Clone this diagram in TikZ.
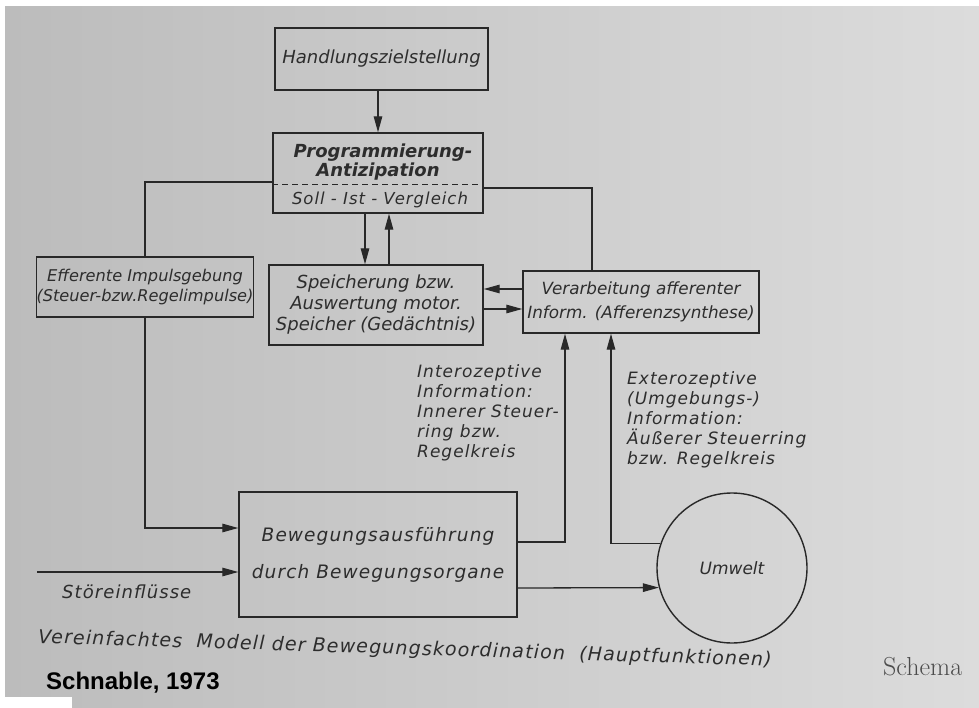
\documentclass[tikz,border=0pt]{standalone}
\usepackage{fontspec}
\newfontfamily\dejavu{DejaVu Sans}
\newfontfamily\dejavuls[LetterSpace=6]{DejaVu Sans}
\newfontfamily\arialfont{Liberation Sans}
\usetikzlibrary{arrows.meta}
\definecolor{ink}{RGB}{40,40,40}
\definecolor{textink}{RGB}{45,45,45}
\definecolor{bgleft}{RGB}{188,188,188}
\definecolor{bgright}{RGB}{220,220,220}
\tikzset{
  box/.style={draw=ink, line width=1.4pt, rectangle, inner sep=0pt, text=textink, align=center},
  lbl/.style={text=textink, inner sep=0pt},
  conn/.style={draw=ink, line width=1.3pt},
  arr/.style={conn, -{Triangle[length=16pt,width=8.5pt]}},
  fa/.style={font={\dejavu\itshape\fontsize{#1}{20}\selectfont}},
  fl/.style={font={\dejavuls\itshape\fontsize{#1}{20}\selectfont}},
  fb/.style={font={\dejavu\bfseries\itshape\fontsize{#1}{20}\selectfont}},
}
\begin{document}
\begin{tikzpicture}[x=1pt,y=-1pt]
\useasboundingbox (0,0) rectangle (979,708);
\fill[white] (0,0) rectangle (979,708);
\shade[left color=bgleft, right color=bgright] (5,7) rectangle (979,708);
\fill[white] (0,697) rectangle (72,708);

% boxes
\node[box, minimum width=213pt, minimum height=62pt, fa=18] (hz) at (381.5,59) {Handlungszielstellung};
\node[box, minimum width=210pt, minimum height=80pt] (prog) at (378,173) {};
\node[lbl, fb=18, anchor=base] (pa) at (383,158) {Programmierung-};
\node[lbl, fb=18, anchor=base] (pb) at (378,177) {Antizipation};
\node[lbl, fl=16.5, anchor=base] (pc) at (380,205) {Soll - Ist - Vergleich};
\draw[conn, line width=1pt, dash pattern=on 6pt off 4pt] ([yshift=-12pt]prog.west) -- ([yshift=-12pt]prog.east);

\node[box, minimum width=212pt, minimum height=60pt, fa=16.2] (eff) at (145,287) {Efferente Impulsgebung\\(Steuer-bzw.Regelimpulse)};
\node[box, minimum width=214pt, minimum height=80pt, font={\dejavu\itshape\fontsize{18}{21}\selectfont}] (sp) at (376,305) {Speicherung bzw.\\Auswertung motor.\\Speicher (Gedächtnis)};
\node[box, minimum width=236pt, minimum height=62pt, font={\dejavu\itshape\fontsize{16.8}{24}\selectfont}] (ver) at (641,302) {Verarbeitung afferenter\\Inform. (Afferenzsynthese)};
\node[box, minimum width=278pt, minimum height=125pt, font={\dejavuls\itshape\fontsize{18.5}{37}\selectfont}] (bew) at (378,554.5) {Bewegungsausführung\\durch Bewegungsorgane};
\node[draw=ink, line width=1.4pt, circle, minimum size=150pt, inner sep=0pt, text=textink, fa=17] (um) at (732,568) {Umwelt};

% side labels
\node[lbl, fl=17, align=left, anchor=north west] (intero) at (417,364) {Interozeptive\\Information:\\Innerer Steuer-\\ring bzw.\\Regelkreis};
\node[lbl, fl=17, align=left, anchor=north west] (extero) at (627,371) {Exterozeptive\\(Umgebungs-)\\Information:\\Äußerer Steuerring\\bzw. Regelkreis};
\node[lbl, fl=18, anchor=base west] (stoertxt) at (62,598) {Störeinflüsse};
\node[lbl, fl=19, anchor=base west, rotate=-1.8] (caption) at (38,643) {Vereinfachtes\ \ Modell der Bewegungskoordination\ \ (Hauptfunktionen)};
\node[lbl, font={\arialfont\bfseries\fontsize{24}{27}\selectfont}, text=black, anchor=base west] (author) at (46,689) {Schnable, 1973};
\node[lbl, font={\fontsize{26}{30}\selectfont}, text=black!70, anchor=base west] (schema) at (883,675) {Schema};

% connectors
\draw[arr] (prog.north |- hz.south) -- (prog.north);
\draw[conn] ([yshift=-9pt]prog.west) -| (eff.north);
\draw[conn] ([yshift=-15pt]prog.east) -| ([xshift=-49pt]ver.north);
\draw[arr] ([xshift=-13pt]prog.south) -- ([xshift=-13pt]prog.south |- sp.north);
\draw[arr] ([xshift=11pt]prog.south |- sp.north) -- ([xshift=11pt]prog.south);
\draw[arr] ([yshift=13pt]ver.west) -- ([yshift=13pt]ver.west -| sp.east);
\draw[arr] ([yshift=-7pt]ver.west -| sp.east) -- ([yshift=-7pt]ver.west);
\draw[arr] (eff.south) |- ([yshift=26.5pt]bew.west);
\coordinate (stoer) at (37,572);
\draw[arr] (stoer) -- (stoer -| bew.west);
\draw[arr] ([yshift=12.5pt]bew.east) -| ([xshift=-76pt]ver.south);
\draw[arr] (um.161) -| ([xshift=-30pt]ver.south);
\draw[arr] ([yshift=-33.5pt]bew.east) -- (um.195);
\end{tikzpicture}
\end{document}
